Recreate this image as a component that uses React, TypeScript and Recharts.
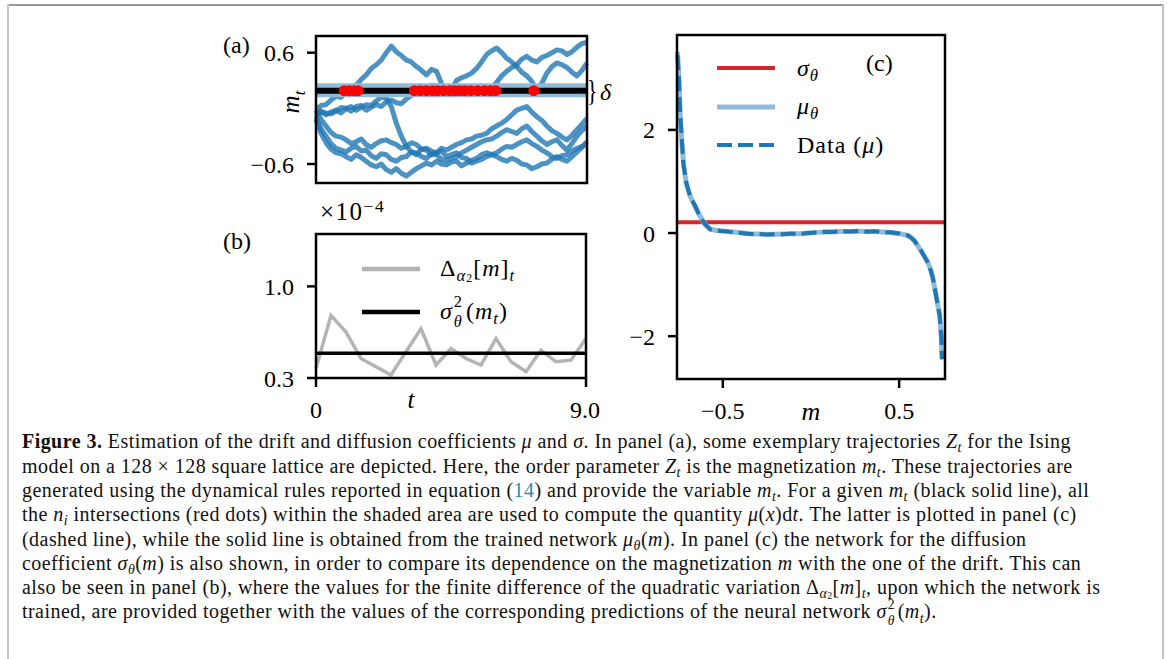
import React from "react"
import { ComposedChart, Line, Scatter, XAxis, YAxis, ReferenceLine, ReferenceArea, Legend, Label } from "recharts"

const SERIF = '"Liberation Serif", "Times New Roman", serif'
const BLUE = "#1f77b4"
const LIGHT_BLUE = "#8fbbd9"
const RED = "#d62728"
const GRAY = "#b4b4b4"

// ---- panel (a): trajectories m_t, sampled along t (the t axis has no ticks) ----
const trajSteps = [0, 1, 2, 3, 4, 5, 6, 7, 8, 9, 10, 11, 12, 13, 14, 15, 16, 17, 18, 19, 20, 21, 22, 23, 24, 25, 26, 27, 28, 29, 30, 31, 32, 33, 34, 35, 36, 37, 38, 39, 40, 41, 42, 43, 44, 45, 46, 47, 48, 49, 50, 51, 52, 53, 54]
const trajA = [-0.02, 0.03, 0.04, 0.09, 0.13, 0.12, 0.18, 0.22, 0.25, 0.31, 0.36, 0.43, 0.47, 0.52, 0.6, 0.67, 0.61, 0.57, 0.52, 0.5, 0.45, 0.41, 0.36, 0.42, 0.4, 0.27, 0.15, 0.2, 0.3, 0.33, 0.35, 0.38, 0.43, 0.5, 0.58, 0.62, 0.65, 0.6, 0.54, 0.5, 0.45, 0.39, 0.35, 0.29, 0.2, 0.27, 0.38, 0.45, 0.49, 0.47, 0.44, 0.39, 0.35, 0.41, 0.49]
const trajB = [-0.09, -0.04, -0.05, -0.06, -0.03, 0.01, 0.0, -0.03, 0.02, 0.03, -0.02, 0.01, 0.04, 0.02, 0.07, 0.09, 0.06, 0.05, 0.1, 0.14, 0.16, 0.15, 0.2, 0.25, 0.24, 0.21, 0.19, 0.23, 0.22, 0.2, 0.17, 0.2, 0.23, 0.24, 0.19, 0.22, 0.28, 0.35, 0.4, 0.44, 0.47, 0.53, 0.56, 0.52, 0.5, 0.55, 0.57, 0.6, 0.63, 0.62, 0.58, 0.61, 0.66, 0.7, 0.71]
const trajC = [-0.05, -0.03, -0.07, -0.04, -0.02, -0.05, 0.0, 0.02, -0.02, 0.01, 0.04, 0.03, 0.08, 0.12, 0.11, 0.02, -0.16, -0.3, -0.41, -0.47, -0.5, -0.44, -0.45, -0.5, -0.48, -0.46, -0.52, -0.5, -0.48, -0.53, -0.54, -0.59, -0.57, -0.55, -0.52, -0.5, -0.48, -0.44, -0.41, -0.42, -0.39, -0.36, -0.34, -0.38, -0.41, -0.45, -0.48, -0.52, -0.54, -0.51, -0.5, -0.46, -0.43, -0.41, -0.38]
const trajD = [-0.02, -0.12, -0.19, -0.26, -0.3, -0.31, -0.34, -0.38, -0.36, -0.33, -0.39, -0.42, -0.38, -0.35, -0.34, -0.37, -0.39, -0.43, -0.41, -0.37, -0.39, -0.44, -0.43, -0.46, -0.48, -0.43, -0.45, -0.42, -0.39, -0.37, -0.34, -0.33, -0.3, -0.29, -0.27, -0.22, -0.19, -0.16, -0.12, -0.07, -0.02, 0.0, 0.02, -0.04, -0.09, -0.13, -0.19, -0.24, -0.27, -0.31, -0.34, -0.29, -0.23, -0.17, -0.11]
const trajE = [-0.09, -0.22, -0.3, -0.38, -0.43, -0.45, -0.47, -0.43, -0.41, -0.46, -0.45, -0.51, -0.54, -0.49, -0.5, -0.55, -0.57, -0.53, -0.52, -0.47, -0.48, -0.52, -0.54, -0.49, -0.5, -0.55, -0.56, -0.54, -0.52, -0.48, -0.45, -0.42, -0.39, -0.36, -0.34, -0.33, -0.3, -0.26, -0.23, -0.25, -0.27, -0.22, -0.19, -0.25, -0.3, -0.35, -0.39, -0.36, -0.34, -0.4, -0.45, -0.38, -0.3, -0.24, -0.19]
const trajF = [-0.12, -0.27, -0.37, -0.44, -0.48, -0.49, -0.52, -0.55, -0.5, -0.53, -0.57, -0.61, -0.63, -0.6, -0.66, -0.69, -0.65, -0.7, -0.73, -0.69, -0.65, -0.62, -0.59, -0.61, -0.57, -0.6, -0.61, -0.58, -0.57, -0.62, -0.59, -0.56, -0.54, -0.5, -0.48, -0.5, -0.52, -0.55, -0.57, -0.54, -0.56, -0.6, -0.61, -0.65, -0.63, -0.6, -0.59, -0.55, -0.52, -0.55, -0.57, -0.52, -0.47, -0.42, -0.36]
const trajectories = [trajA, trajB, trajC, trajD, trajE, trajF]
const mtLevel = 0.19
const deltaBand = [0.12, 0.27]
const redDotSteps = [5.6, 6.6, 7.6, 8.4, 19.6, 20.8, 22.0, 23.2, 24.2, 25.4, 26.6, 27.6, 28.6, 29.6, 30.8, 32.2, 33.6, 34.8, 35.8, 43.4]
const aYTicks = [-0.6, 0.6]
const aXDomain = [0, 54]
const aYDomain = [-0.805, 0.78]

// ---- panel (b): quadratic variation (units of 1e-4) ----
const bTimes = [0, 0.5, 1, 1.5, 2, 2.5, 3, 3.5, 4, 4.5, 5, 5.5, 6, 6.5, 7, 7.5, 8, 8.5, 9]
const quadVar = [0.374, 0.778, 0.651, 0.449, 0.386, 0.323, 0.5, 0.677, 0.399, 0.525, 0.449, 0.399, 0.601, 0.424, 0.348, 0.512, 0.424, 0.436, 0.601]
const sigma2Level = 0.49
const bYTicks = [0.3, 1.0]
const bXTicks = [0, 9]
const bYDomain = [0.3, 1.4]

// ---- panel (c): drift vs magnetization ----
const mGrid = [-0.757, -0.749, -0.742, -0.732, -0.723, -0.708, -0.685, -0.657, -0.628, -0.6, -0.572, -0.545, -0.515, -0.48, -0.44, -0.4, -0.345, -0.3, -0.25, -0.2, -0.157, -0.11, -0.063, -0.02, 0.032, 0.08, 0.126, 0.17, 0.22, 0.27, 0.315, 0.36, 0.409, 0.45, 0.503, 0.53, 0.55, 0.57, 0.588, 0.607, 0.626, 0.645, 0.664, 0.68, 0.692, 0.711, 0.73, 0.739, 0.743]
const muTheta = [3.51, 2.97, 2.32, 1.74, 1.35, 0.97, 0.71, 0.51, 0.32, 0.16, 0.08, 0.055, 0.045, 0.03, 0.02, 0.005, -0.013, -0.02, -0.026, -0.024, -0.02, -0.016, -0.013, -0.002, 0.013, 0.02, 0.026, 0.03, 0.032, 0.033, 0.032, 0.028, 0.02, 0.01, -0.013, -0.03, -0.05, -0.09, -0.16, -0.25, -0.36, -0.46, -0.58, -0.72, -0.9, -1.23, -1.61, -2.0, -2.42]
const muData = [3.45, 3.0, 2.3, 1.78, 1.32, 0.99, 0.7, 0.53, 0.3, 0.17, 0.07, 0.06, 0.04, 0.035, 0.01, 0.0, -0.02, -0.015, -0.03, -0.02, -0.025, -0.01, -0.015, 0.0, 0.01, 0.025, 0.02, 0.035, 0.03, 0.04, 0.025, 0.035, 0.015, 0.015, -0.01, -0.035, -0.045, -0.1, -0.15, -0.26, -0.35, -0.47, -0.57, -0.74, -0.88, -1.25, -1.6, -2.02, -2.45]
const sigmaTheta = 0.21
const cXTicks = [-0.5, 0.5]
const cYTicks = [-2, 0, 2]
const cXDomain = [-0.76, 0.76]
const cYDomain = [-2.83, 3.84]

const trajData = trajectories.map((tr) => trajSteps.map((t, i) => ({ t, m: tr[i] })))
const redDots = redDotSteps.map((t) => ({ t, m: mtLevel }))
const quadData = bTimes.map((t, i) => ({ t, q: quadVar[i] }))
const driftData = mGrid.map((m, i) => ({ m, mu: muTheta[i], data: muData[i] }))

const minus = (v: number, digits: number) => (v < 0 ? "\u2212" : "") + Math.abs(v).toFixed(digits)

const tickStyle = { fill: "#000", fontSize: 24, fontFamily: SERIF }
const tickLine = { stroke: "#000", strokeWidth: 2.5 }

function Sub({ children, shift = 0.3 }: { children: React.ReactNode; shift?: number }) {
  return <span style={{ fontSize: "0.7em", position: "relative", top: `${shift}em` }}>{children}</span>
}
function Sup({ children }: { children: React.ReactNode }) {
  return <span style={{ fontSize: "0.7em", position: "relative", top: "-0.45em" }}>{children}</span>
}
// stacked superscript + subscript, e.g. sigma^2_theta
function SubSup({ sup, sub }: { sup: React.ReactNode; sub: React.ReactNode }) {
  return (
    <span style={{ display: "inline-block", position: "relative", width: "0.8em", height: 0, fontSize: "0.68em", lineHeight: 0.85 }}>
      <span style={{ position: "absolute", left: 1, top: "-1.45em" }}>{sup}</span>
      <span style={{ position: "absolute", left: 1, top: "-0.22em" }}>{sub}</span>
    </span>
  )
}
// alpha_2 used as a subscript
const Alpha2 = () => <Sub><i>α</i><Sub shift={0.12}>2</Sub></Sub>

function Txt({ x, y, size = 24, italic, children, style }: { x: number; y: number; size?: number; italic?: boolean; children: React.ReactNode; style?: React.CSSProperties }) {
  return (
    <span style={{ position: "absolute", left: x, top: y, fontSize: size, lineHeight: `${size}px`, fontFamily: SERIF, fontStyle: italic ? "italic" : "normal", whiteSpace: "nowrap", ...style }}>
      {children}
    </span>
  )
}

function LegendRows({ rows, height, gap }: { rows: { sample: React.ReactNode; label: React.ReactNode }[]; height: number; gap: number }) {
  return (
    <div style={{ fontFamily: SERIF, fontSize: 24, letterSpacing: 1 }}>
      {rows.map((r, i) => (
        <div key={i} style={{ display: "flex", alignItems: "center", height }}>
          <svg width={58} height={12} style={{ overflow: "visible", flex: "none" }}>{r.sample}</svg>
          <span style={{ marginLeft: gap, whiteSpace: "nowrap" }}>{r.label}</span>
        </div>
      ))}
    </div>
  )
}

function PanelA() {
  return (
    <div style={{ position: "absolute", left: 200, top: 20 }}>
      <ComposedChart width={400} height={180} margin={{ top: 16, right: 13, bottom: 17, left: 0 }}>
        <XAxis type="number" dataKey="t" domain={aXDomain} hide />
        <YAxis type="number" dataKey="m" domain={aYDomain} ticks={aYTicks} width={116} tickFormatter={(v) => minus(v, 1)}
          tick={tickStyle} tickLine={tickLine} axisLine={false} tickSize={9} tickMargin={13}>
          <Label content={({ viewBox }: any) => {
            const cx = viewBox.x + viewBox.width - 17
            const cy = viewBox.y + 66
            return (
              <text x={cx} y={cy} transform={`rotate(-90 ${cx} ${cy})`} textAnchor="middle" fontFamily={SERIF} fontSize={25} fontStyle="italic">
                m<tspan fontSize={17} dy={6}>t</tspan>
              </text>
            )
          }} />
        </YAxis>
        {trajData.map((d, i) => (
          <Line key={i} data={d} dataKey="m" stroke={BLUE} strokeOpacity={0.8} strokeWidth={5} strokeLinejoin="round" dot={false} isAnimationActive={false} />
        ))}
        <ReferenceArea y1={deltaBand[0]} y2={deltaBand[1]} fill={LIGHT_BLUE} fillOpacity={1} zIndex={450} />
        <ReferenceLine y={mtLevel} stroke="#000" strokeWidth={6} zIndex={460} />
        <Scatter data={redDots} dataKey="m" isAnimationActive={false} zIndex={600}
          shape={(p: any) => <circle cx={p.cx} cy={p.cy} r={5.5} fill="#ff0000" />} />
        <ReferenceArea x1={aXDomain[0]} x2={aXDomain[1]} y1={aYDomain[0]} y2={aYDomain[1]} fill="none" stroke="#000" strokeWidth={2.5} zIndex={700} />
      </ComposedChart>
    </div>
  )
}

function PanelB() {
  return (
    <div style={{ position: "absolute", left: 200, top: 215 }}>
      <ComposedChart width={400} height={220} data={quadData} margin={{ top: 19, right: 14, bottom: 7, left: 0 }}>
        <XAxis type="number" dataKey="t" domain={[0, 9]} ticks={bXTicks} height={50} tickFormatter={(v) => (v === 0 ? "0" : v.toFixed(1))}
          tick={tickStyle} tickLine={tickLine} axisLine={false} tickSize={9} tickMargin={14}>
          <Label content={({ viewBox }: any) => (
            <text x={viewBox.x + 95} y={viewBox.y + 30} textAnchor="middle" fontFamily={SERIF} fontSize={25} fontStyle="italic">t</text>
          )} />
        </XAxis>
        <YAxis type="number" domain={bYDomain} ticks={bYTicks} width={116} tickFormatter={(v) => v.toFixed(1)}
          tick={tickStyle} tickLine={tickLine} axisLine={false} tickSize={9} tickMargin={13} />
        <Line dataKey="q" stroke={GRAY} strokeWidth={3.5} dot={false} isAnimationActive={false} />
        <ReferenceLine y={sigma2Level} stroke="#000" strokeWidth={3.5} zIndex={450} />
        <ReferenceArea x1={0} x2={9} y1={bYDomain[0]} y2={bYDomain[1]} fill="none" stroke="#000" strokeWidth={2.5} zIndex={700} />
        <Legend layout="horizontal" verticalAlign="middle" align="center" wrapperStyle={{ top: 32, left: 162, width: "auto", height: "auto" }}
          content={() => (
            <LegendRows height={43} gap={20} rows={[
              { sample: <line x1={0} x2={58} y1={6} y2={6} stroke={GRAY} strokeWidth={4.5} />, label: <span>Δ<Alpha2 />[<i>m</i>]<Sub><i>t</i></Sub></span> },
              { sample: <line x1={0} x2={58} y1={6} y2={6} stroke="#000" strokeWidth={4.5} />, label: <span><i>σ</i><SubSup sup="2" sub={<i>θ</i>} />(<i>m</i><Sub><i>t</i></Sub>)</span> },
            ]} />
          )} />
      </ComposedChart>
    </div>
  )
}

function PanelC() {
  return (
    <div style={{ position: "absolute", left: 600, top: 20 }}>
      <ComposedChart width={360} height={410} data={driftData} margin={{ top: 15, right: 15, bottom: 6, left: 0 }}>
        <XAxis type="number" dataKey="m" domain={cXDomain} ticks={cXTicks} height={45} tickFormatter={(v) => minus(v, 1)}
          tick={tickStyle} tickLine={tickLine} axisLine={false} tickSize={9} tickMargin={14}>
          <Label content={({ viewBox }: any) => (
            <text x={viewBox.x + viewBox.width / 2} y={viewBox.y + 41} textAnchor="middle" fontFamily={SERIF} fontSize={26} fontStyle="italic">m</text>
          )} />
        </XAxis>
        <YAxis type="number" domain={cYDomain} ticks={cYTicks} width={77} tickFormatter={(v) => minus(v, 0)}
          tick={tickStyle} tickLine={tickLine} axisLine={false} tickSize={9} tickMargin={13} />
        <ReferenceLine y={sigmaTheta} stroke={RED} strokeWidth={4} zIndex={300} />
        <Line dataKey="mu" stroke={LIGHT_BLUE} strokeWidth={5} dot={false} isAnimationActive={false} />
        <Line dataKey="data" stroke={BLUE} strokeWidth={4} strokeDasharray="15 6" dot={false} isAnimationActive={false} />
        <ReferenceArea x1={cXDomain[0]} x2={cXDomain[1]} y1={cYDomain[0]} y2={cYDomain[1]} fill="none" stroke="#000" strokeWidth={2.5} zIndex={700} />
        <Legend layout="horizontal" verticalAlign="middle" align="center" wrapperStyle={{ top: 29, left: 117, width: "auto", height: "auto" }}
          content={() => (
            <LegendRows height={38.5} gap={22} rows={[
              { sample: <line x1={0} x2={58} y1={6} y2={6} stroke={RED} strokeWidth={4} />, label: <span><i>σ</i><Sub><i>θ</i></Sub></span> },
              { sample: <line x1={0} x2={58} y1={6} y2={6} stroke={LIGHT_BLUE} strokeWidth={5} />, label: <span><i>μ</i><Sub><i>θ</i></Sub></span> },
              { sample: <line x1={0} x2={58} y1={6} y2={6} stroke={BLUE} strokeWidth={4} strokeDasharray="15 6" />, label: <span>Data (<i>μ</i>)</span> },
            ]} />
          )} />
      </ComposedChart>
    </div>
  )
}

const captionLines: React.ReactNode[] = [
  <><b>Figure 3.</b> Estimation of the drift and diffusion coefficients <i>μ</i> and <i>σ</i>. In panel (a), some exemplary trajectories <i>Z</i><Sub><i>t</i></Sub> for the Ising</>,
  <>model on a 128 × 128 square lattice are depicted. Here, the order parameter <i>Z</i><Sub><i>t</i></Sub> is the magnetization <i>m</i><Sub><i>t</i></Sub>. These trajectories are</>,
  <>generated using the dynamical rules reported in equation (<span style={{ color: "#2a8ab8" }}>14</span>) and provide the variable <i>m</i><Sub><i>t</i></Sub>. For a given <i>m</i><Sub><i>t</i></Sub> (black solid line), all</>,
  <>the <i>n</i><Sub><i>i</i></Sub> intersections (red dots) within the shaded area are used to compute the quantity <i>μ</i>(<i>x</i>)d<i>t</i>. The latter is plotted in panel (c)</>,
  <>(dashed line), while the solid line is obtained from the trained network <i>μ</i><Sub><i>θ</i></Sub>(<i>m</i>). In panel (c) the network for the diffusion</>,
  <>coefficient <i>σ</i><Sub><i>θ</i></Sub>(<i>m</i>) is also shown, in order to compare its dependence on the magnetization <i>m</i> with the one of the drift. This can</>,
  <>also be seen in panel (b), where the values for the finite difference of the quadratic variation Δ<Alpha2 />[<i>m</i>]<Sub><i>t</i></Sub>, upon which the network is</>,
  <>trained, are provided together with the values of the corresponding predictions of the neural network <i>σ</i><SubSup sup="2" sub={<i>θ</i>} />(<i>m</i><Sub><i>t</i></Sub>).</>,
]

export default function App() {
  return (
    <div style={{ position: "absolute", left: 0, top: 0, width: 1167, height: 659, background: "#fff", overflow: "hidden", fontFamily: SERIF }}>
      <div style={{ position: "absolute", left: 7, top: 4, width: 1157, height: 1.5, background: "#9a9a9a" }} />
      <div style={{ position: "absolute", left: 7, top: 4, width: 2, height: 660, background: "#c4c4c4" }} />
      <div style={{ position: "absolute", left: 1162, top: 4, width: 2, height: 660, background: "#c4c4c4" }} />

      <PanelA />
      <PanelB />
      <PanelC />

      <Txt x={223} y={33}>(a)</Txt>
      <Txt x={223} y={229}>(b)</Txt>
      <Txt x={866} y={51}>(c)</Txt>
      <Txt x={587} y={76} size={29} style={{ transform: "scaleX(0.75)", transformOrigin: "left" }}>{"}"}</Txt>
      <Txt x={600} y={80} italic>δ</Txt>
      <Txt x={320} y={199} size={25} style={{ letterSpacing: 1.5 }}>×10<Sup>−4</Sup></Txt>

      {captionLines.map((line, i) => (
        <div key={i} style={{ position: "absolute", left: 22, top: 448 + i * 24.3 - 16.7, fontSize: 20, lineHeight: "20px", letterSpacing: 0.45, whiteSpace: "nowrap", color: "#111" }}>
          {line}
        </div>
      ))}
    </div>
  )
}
